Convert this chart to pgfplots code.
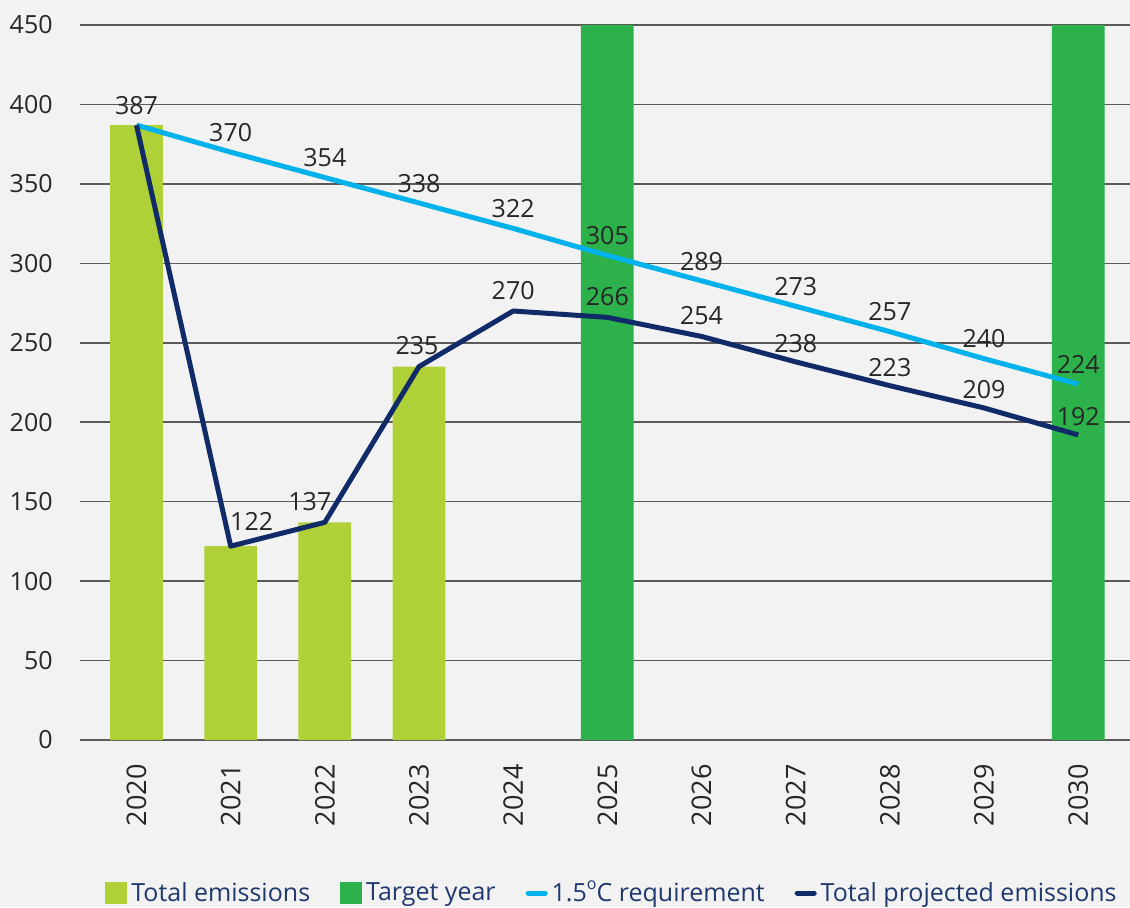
\documentclass[border=0pt]{standalone}
\usepackage{pgfplots}
\pgfplotsset{compat=1.18}
\usepackage{pgfplotstable}
\usepackage{fontspec}
\setmainfont{Open Sans}
\definecolor{bg}{RGB}{242,242,242}
\definecolor{lgreen}{RGB}{175,208,55}
\definecolor{dgreen}{RGB}{45,178,75}
\definecolor{lblue}{RGB}{0,178,236}
\definecolor{navy}{RGB}{16,43,104}
\definecolor{gridc}{RGB}{90,90,90}
\definecolor{txt}{RGB}{38,38,38}
\definecolor{legtxt}{RGB}{31,56,110}

\pgfplotstableread{
x y
0 387
1 122
2 137
3 235
}\actual
\pgfplotstableread{
x y
5 450
10 450
}\target
\pgfplotstableread{
x y
0 387
1 370
2 354
3 338
4 322
5 305
6 289
7 273
8 257
9 240
10 224
}\req
\pgfplotstableread{
x y dx dy
0 387 0 0
1 122 10.5 2
2 137 -7.5 0
3 235 -1 0
4 270 0 0
5 266 0 0
6 254 0 0
7 238 0 -1
8 223 0 -1
9 209 0 -1
10 192 0 -1
}\proj

\newcommand{\fs}{\fontsize{12.5}{15}\selectfont}

\begin{document}
\begin{tikzpicture}
\fill[bg] (-40pt,-83.5pt) rectangle (525pt,370pt);
\begin{axis}[
  at={(0,0)}, anchor=south west,
  scale only axis, width=525pt, height=357.5pt,
  xmin=-0.6, xmax=10.55, ymin=0, ymax=450,
  clip=false,
  xtick={0,1,2,3,4,5,6,7,8,9,10},
  xticklabels={2020,2021,2022,2023,2024,2025,2026,2027,2028,2029,2030},
  ytick={0,50,100,150,200,250,300,350,400,450},
  ymajorgrids, grid style={gridc, line width=0.8pt},
  axis line style={draw=none}, major tick length=0pt,
  tick label style={font=\fs, text=txt},
  xticklabel style={rotate=90, anchor=east, inner sep=0pt, font=\fontsize{13.5}{16}\selectfont},
  xticklabel shift=12pt,
  yticklabel style={anchor=east, inner sep=0pt},
  yticklabel shift=13.5pt,
  /pgf/number format/assume math mode=true,
  legend columns=4,
  legend style={draw=none, fill=none, at={(0.5,0)}, anchor=center,
    xshift=4pt, yshift=-76.5pt, font=\fs, text=legtxt,
    nodes={inner sep=2pt},
    /tikz/every even column/.append style={column sep=13pt}},
]
\addplot[ybar, bar width=0.56, bar shift=0pt, fill=lgreen, draw=none,
  legend image code/.code={\fill[lgreen] (0pt,-5.5pt) rectangle (11pt,5.5pt);}]
  table[x=x,y=y]{\actual};
\addlegendentry{Total emissions}
\addplot[ybar, bar width=0.56, bar shift=0pt, fill=dgreen, draw=none,
  legend image code/.code={\fill[dgreen] (0pt,-5.5pt) rectangle (11pt,5.5pt);}]
  table[x=x,y=y]{\target};
\addlegendentry{Target year}
\addplot[lblue, line width=2.5pt, line join=round, sharp plot, mark=none,
  nodes near coords,
  nodes near coords style={font=\fs, text=txt, anchor=south, inner sep=2pt, yshift=2pt},
  legend image code/.code={\draw[lblue, line width=2.5pt, line cap=round] (1.5pt,0pt) -- (10pt,0pt);}]
  table[x=x,y=y]{\req};
\addlegendentry{1.5\raisebox{0.9ex}{\fontsize{8}{9}\selectfont o}C requirement}
\addplot[navy, line width=2.5pt, line join=round, sharp plot, mark=none,
  legend image code/.code={\draw[navy, line width=2.5pt, line cap=round] (1.5pt,0pt) -- (10pt,0pt);}]
  table[x=x,y=y]{\proj};
\addlegendentry{Total projected emissions}
\addplot[draw=none, mark=none, forget plot,
  restrict x to domain=0.5:10.5,
  visualization depends on={\thisrow{dx}\as\lbldx},
  visualization depends on={\thisrow{dy}\as\lbldy},
  nodes near coords,
  nodes near coords style={font=\fs, text=txt, anchor=south, inner sep=2pt,
    xshift=\lbldx pt, yshift=3.5pt+\lbldy pt}]
  table[x=x,y=y]{\proj};
\end{axis}
\pgfresetboundingbox
\path[use as bounding box] (-40pt,-83.5pt) rectangle (525pt,370pt);
\end{tikzpicture}
\end{document}
